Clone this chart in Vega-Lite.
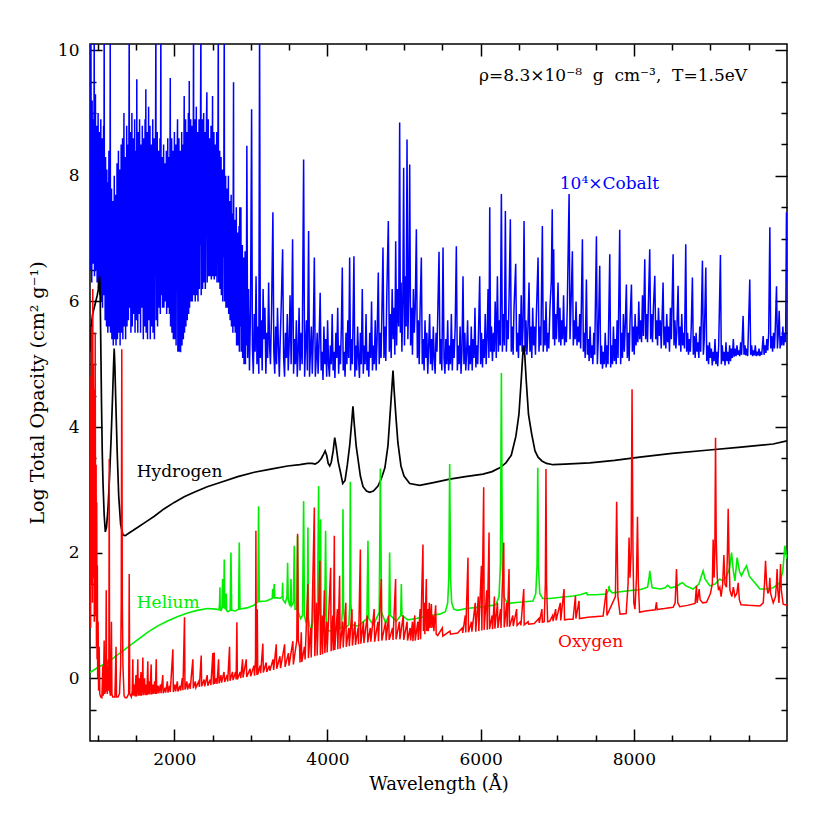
{
"$schema":"https://vega.github.io/schema/vega-lite/v6.json",
"width":697,"height":697,
"autosize":{"type":"none"},
"padding":{"left":90,"top":44,"right":43,"bottom":89},
"background":"white",
"config":{"view":{"stroke":"black","strokeWidth":1.5},
"axis":{"grid":false,"domain":false,"tickColor":"black","tickWidth":1.5,"labelFont":"DejaVu Serif","labelFontSize":17,"labelColor":"black","titleFont":"DejaVu Serif","titleFontSize":18,"titleFontWeight":"normal","titleColor":"black","labelFlush":false,"labelOverlap":false,"format":"d"}},
"datasets":{
"co":[{"w":900,"v":7.0},{"w":904,"v":8.9},{"w":908,"v":6.5},{"w":912,"v":10.5},{"w":916,"v":7.3},{"w":919,"v":8.1},{"w":923,"v":6.3},{"w":928,"v":9.2},{"w":931,"v":7.5},{"w":935,"v":8.4},{"w":940,"v":6.6},{"w":944,"v":8.9},{"w":947,"v":6.9},{"w":951,"v":7.8},{"w":955,"v":10.5},{"w":959,"v":6.4},{"w":962,"v":8.6},{"w":967,"v":7.2},{"w":971,"v":9.3},{"w":975,"v":6.5},{"w":980,"v":8.0},{"w":983,"v":7.3},{"w":988,"v":8.8},{"w":993,"v":6.3},{"w":997,"v":7.7},{"w":1001,"v":6.8},{"w":1006,"v":9.0},{"w":1010,"v":6.2},{"w":1015,"v":8.3},{"w":1018,"v":7.0},{"w":1023,"v":8.7},{"w":1028,"v":6.1},{"w":1032,"v":7.6},{"w":1036,"v":6.7},{"w":1041,"v":8.9},{"w":1046,"v":6.0},{"w":1050,"v":8.2},{"w":1054,"v":7.1},{"w":1059,"v":8.6},{"w":1063,"v":5.9},{"w":1068,"v":7.5},{"w":1072,"v":6.6},{"w":1077,"v":8.8},{"w":1081,"v":6.1},{"w":1085,"v":10.5},{"w":1089,"v":6.4},{"w":1094,"v":7.7},{"w":1098,"v":5.7},{"w":1103,"v":8.3},{"w":1107,"v":6.6},{"w":1111,"v":7.4},{"w":1116,"v":5.6},{"w":1120,"v":8.1},{"w":1124,"v":6.2},{"w":1129,"v":7.2},{"w":1133,"v":5.5},{"w":1138,"v":7.9},{"w":1142,"v":6.6},{"w":1147,"v":8.4},{"w":1151,"v":5.6},{"w":1156,"v":7.0},{"w":1160,"v":6.1},{"w":1164,"v":10.5},{"w":1168,"v":5.5},{"w":1172,"v":7.3},{"w":1177,"v":6.2},{"w":1181,"v":7.8},{"w":1186,"v":5.4},{"w":1190,"v":6.9},{"w":1195,"v":6.0},{"w":1199,"v":7.6},{"w":1204,"v":5.3},{"w":1208,"v":7.1},{"w":1213,"v":6.3},{"w":1217,"v":8.0},{"w":1222,"v":5.4},{"w":1226,"v":6.8},{"w":1230,"v":6.0},{"w":1235,"v":7.7},{"w":1240,"v":5.3},{"w":1244,"v":7.2},{"w":1249,"v":6.5},{"w":1253,"v":8.2},{"w":1258,"v":5.4},{"w":1262,"v":7.0},{"w":1266,"v":6.2},{"w":1271,"v":8.4},{"w":1276,"v":5.5},{"w":1280,"v":7.4},{"w":1284,"v":6.6},{"w":1289,"v":8.1},{"w":1293,"v":5.3},{"w":1298,"v":7.6},{"w":1302,"v":6.3},{"w":1307,"v":8.5},{"w":1311,"v":5.5},{"w":1316,"v":7.1},{"w":1320,"v":6.7},{"w":1325,"v":8.6},{"w":1329,"v":5.4},{"w":1334,"v":7.8},{"w":1338,"v":6.2},{"w":1343,"v":9.0},{"w":1347,"v":5.6},{"w":1352,"v":7.3},{"w":1356,"v":6.8},{"w":1361,"v":8.3},{"w":1365,"v":5.4},{"w":1370,"v":7.6},{"w":1374,"v":6.4},{"w":1379,"v":8.8},{"w":1383,"v":5.6},{"w":1388,"v":7.2},{"w":1392,"v":6.9},{"w":1397,"v":8.5},{"w":1401,"v":5.7},{"w":1406,"v":7.5},{"w":1412,"v":10.5},{"w":1416,"v":5.9},{"w":1420,"v":8.1},{"w":1425,"v":6.5},{"w":1429,"v":8.7},{"w":1434,"v":5.5},{"w":1438,"v":7.4},{"w":1443,"v":6.8},{"w":1447,"v":9.0},{"w":1452,"v":5.6},{"w":1456,"v":7.7},{"w":1461,"v":6.4},{"w":1465,"v":8.6},{"w":1470,"v":5.8},{"w":1474,"v":7.3},{"w":1479,"v":6.9},{"w":1483,"v":8.9},{"w":1488,"v":5.5},{"w":1492,"v":7.8},{"w":1497,"v":6.6},{"w":1501,"v":8.4},{"w":1506,"v":5.7},{"w":1511,"v":9.54},{"w":1515,"v":6.2},{"w":1520,"v":8.0},{"w":1524,"v":5.5},{"w":1529,"v":8.7},{"w":1533,"v":6.9},{"w":1538,"v":7.6},{"w":1542,"v":5.8},{"w":1547,"v":8.9},{"w":1551,"v":6.4},{"w":1556,"v":7.4},{"w":1560,"v":5.5},{"w":1565,"v":8.5},{"w":1569,"v":7.0},{"w":1574,"v":8.1},{"w":1578,"v":5.9},{"w":1583,"v":8.8},{"w":1587,"v":6.3},{"w":1592,"v":7.5},{"w":1596,"v":5.4},{"w":1601,"v":8.6},{"w":1605,"v":6.8},{"w":1610,"v":7.8},{"w":1614,"v":5.6},{"w":1619,"v":8.9},{"w":1624,"v":6.4},{"w":1629,"v":9.38},{"w":1633,"v":5.5},{"w":1638,"v":7.9},{"w":1642,"v":6.9},{"w":1647,"v":8.7},{"w":1651,"v":5.4},{"w":1656,"v":7.6},{"w":1660,"v":6.6},{"w":1665,"v":9.1},{"w":1669,"v":5.7},{"w":1674,"v":7.4},{"w":1678,"v":6.3},{"w":1683,"v":8.8},{"w":1687,"v":5.4},{"w":1692,"v":7.9},{"w":1696,"v":7.0},{"w":1701,"v":8.5},{"w":1705,"v":5.6},{"w":1710,"v":7.3},{"w":1714,"v":6.5},{"w":1719,"v":8.9},{"w":1723,"v":5.5},{"w":1728,"v":7.7},{"w":1732,"v":6.8},{"w":1737,"v":8.6},{"w":1741,"v":5.4},{"w":1746,"v":7.5},{"w":1751,"v":6.4},{"w":1756,"v":8.8},{"w":1760,"v":10.5},{"w":1764,"v":5.7},{"w":1769,"v":8.0},{"w":1773,"v":6.9},{"w":1778,"v":8.7},{"w":1782,"v":5.6},{"w":1787,"v":7.4},{"w":1791,"v":6.6},{"w":1796,"v":8.4},{"w":1800,"v":5.9},{"w":1805,"v":7.2},{"w":1809,"v":6.8},{"w":1814,"v":8.6},{"w":1818,"v":5.8},{"w":1825,"v":10.5},{"w":1829,"v":6.1},{"w":1834,"v":7.7},{"w":1838,"v":6.7},{"w":1843,"v":8.3},{"w":1847,"v":5.9},{"w":1852,"v":7.4},{"w":1856,"v":7.0},{"w":1861,"v":8.5},{"w":1865,"v":5.9},{"w":1870,"v":7.3},{"w":1874,"v":6.6},{"w":1879,"v":8.2},{"w":1883,"v":6.0},{"w":1888,"v":7.6},{"w":1892,"v":7.1},{"w":1897,"v":8.4},{"w":1901,"v":5.8},{"w":1906,"v":7.2},{"w":1910,"v":6.5},{"w":1915,"v":8.6},{"w":1919,"v":5.9},{"w":1924,"v":7.5},{"w":1928,"v":6.8},{"w":1933,"v":8.3},{"w":1937,"v":5.8},{"w":1941,"v":7.1},{"w":1948,"v":9.56},{"w":1952,"v":5.6},{"w":1957,"v":7.8},{"w":1961,"v":6.5},{"w":1966,"v":8.6},{"w":1970,"v":5.5},{"w":1975,"v":7.3},{"w":1979,"v":6.7},{"w":1984,"v":8.4},{"w":1988,"v":5.4},{"w":1993,"v":7.6},{"w":1997,"v":6.3},{"w":2002,"v":8.7},{"w":2006,"v":5.4},{"w":2011,"v":7.2},{"w":2015,"v":6.6},{"w":2020,"v":8.5},{"w":2024,"v":5.3},{"w":2029,"v":7.7},{"w":2033,"v":6.2},{"w":2038,"v":8.3},{"w":2043,"v":8.9},{"w":2047,"v":5.2},{"w":2052,"v":7.4},{"w":2056,"v":6.5},{"w":2061,"v":8.6},{"w":2065,"v":5.2},{"w":2070,"v":7.1},{"w":2074,"v":6.3},{"w":2079,"v":8.4},{"w":2083,"v":5.19},{"w":2088,"v":7.5},{"w":2092,"v":6.1},{"w":2097,"v":8.7},{"w":2101,"v":5.3},{"w":2106,"v":7.3},{"w":2110,"v":6.6},{"w":2115,"v":8.5},{"w":2119,"v":5.4},{"w":2124,"v":7.8},{"w":2130,"v":9.27},{"w":2134,"v":5.5},{"w":2139,"v":7.6},{"w":2143,"v":6.8},{"w":2148,"v":8.9},{"w":2152,"v":5.6},{"w":2157,"v":7.4},{"w":2161,"v":6.9},{"w":2166,"v":8.7},{"w":2170,"v":5.7},{"w":2175,"v":7.9},{"w":2179,"v":6.6},{"w":2184,"v":9.0},{"w":2188,"v":5.8},{"w":2192,"v":7.5},{"w":2196,"v":9.51},{"w":2200,"v":5.9},{"w":2205,"v":7.8},{"w":2209,"v":7.0},{"w":2214,"v":8.9},{"w":2218,"v":6.0},{"w":2223,"v":7.6},{"w":2227,"v":6.7},{"w":2232,"v":8.8},{"w":2236,"v":6.0},{"w":2241,"v":7.4},{"w":2246,"v":7.2},{"w":2252,"v":10.5},{"w":2256,"v":6.1},{"w":2261,"v":8.0},{"w":2265,"v":6.8},{"w":2270,"v":8.9},{"w":2274,"v":6.0},{"w":2279,"v":7.5},{"w":2283,"v":7.2},{"w":2288,"v":9.1},{"w":2292,"v":6.1},{"w":2297,"v":7.7},{"w":2301,"v":6.7},{"w":2306,"v":8.7},{"w":2310,"v":6.0},{"w":2315,"v":7.4},{"w":2319,"v":7.3},{"w":2324,"v":8.9},{"w":2328,"v":6.2},{"w":2333,"v":7.8},{"w":2337,"v":6.9},{"w":2342,"v":8.6},{"w":2348,"v":10.5},{"w":2352,"v":6.1},{"w":2357,"v":7.9},{"w":2361,"v":7.0},{"w":2366,"v":8.9},{"w":2370,"v":6.2},{"w":2375,"v":7.6},{"w":2379,"v":7.3},{"w":2384,"v":9.0},{"w":2388,"v":6.3},{"w":2393,"v":7.8},{"w":2397,"v":6.9},{"w":2402,"v":8.7},{"w":2406,"v":6.2},{"w":2411,"v":7.5},{"w":2415,"v":7.2},{"w":2420,"v":8.8},{"w":2426,"v":9.33},{"w":2430,"v":6.3},{"w":2435,"v":7.7},{"w":2439,"v":7.4},{"w":2444,"v":8.9},{"w":2448,"v":6.4},{"w":2453,"v":7.9},{"w":2457,"v":7.0},{"w":2462,"v":8.6},{"w":2466,"v":6.4},{"w":2471,"v":7.6},{"w":2475,"v":7.3},{"w":2480,"v":8.8},{"w":2484,"v":6.35},{"w":2489,"v":7.8},{"w":2494,"v":7.1},{"w":2500,"v":9.27},{"w":2504,"v":6.4},{"w":2509,"v":7.7},{"w":2513,"v":7.4},{"w":2518,"v":8.7},{"w":2522,"v":6.35},{"w":2527,"v":7.9},{"w":2531,"v":7.0},{"w":2536,"v":8.5},{"w":2540,"v":6.4},{"w":2545,"v":7.6},{"w":2549,"v":7.2},{"w":2554,"v":8.7},{"w":2558,"v":6.3},{"w":2563,"v":7.8},{"w":2567,"v":6.9},{"w":2575,"v":10.5},{"w":2579,"v":6.3},{"w":2584,"v":7.5},{"w":2588,"v":7.1},{"w":2593,"v":8.4},{"w":2597,"v":6.2},{"w":2602,"v":7.7},{"w":2606,"v":6.8},{"w":2611,"v":8.3},{"w":2615,"v":6.1},{"w":2620,"v":7.4},{"w":2624,"v":7.0},{"w":2629,"v":8.1},{"w":2633,"v":6.0},{"w":2638,"v":7.6},{"w":2642,"v":6.7},{"w":2647,"v":7.9},{"w":2653,"v":10.5},{"w":2657,"v":6.0},{"w":2662,"v":7.5},{"w":2666,"v":6.9},{"w":2671,"v":8.0},{"w":2675,"v":5.9},{"w":2680,"v":7.3},{"w":2684,"v":6.6},{"w":2689,"v":7.8},{"w":2693,"v":5.9},{"w":2698,"v":7.2},{"w":2702,"v":6.5},{"w":2707,"v":8.0},{"w":2711,"v":5.8},{"w":2716,"v":7.1},{"w":2720,"v":6.4},{"w":2725,"v":7.6},{"w":2729,"v":5.7},{"w":2734,"v":7.0},{"w":2738,"v":6.3},{"w":2743,"v":7.7},{"w":2747,"v":5.6},{"w":2752,"v":6.9},{"w":2756,"v":6.2},{"w":2761,"v":7.4},{"w":2765,"v":5.5},{"w":2774,"v":9.49},{"w":2778,"v":5.6},{"w":2783,"v":6.8},{"w":2787,"v":6.1},{"w":2792,"v":7.3},{"w":2796,"v":5.5},{"w":2801,"v":6.7},{"w":2805,"v":5.9},{"w":2810,"v":7.5},{"w":2814,"v":5.3},{"w":2819,"v":6.6},{"w":2823,"v":5.9},{"w":2828,"v":7.1},{"w":2832,"v":5.3},{"w":2837,"v":6.5},{"w":2841,"v":5.7},{"w":2846,"v":7.2},{"w":2850,"v":5.2},{"w":2856,"v":7.5},{"w":2861,"v":5.6},{"w":2866,"v":6.6},{"w":2870,"v":7.5},{"w":2875,"v":5.2},{"w":2880,"v":6.4},{"w":2884,"v":5.6},{"w":2889,"v":6.9},{"w":2893,"v":5.1},{"w":2898,"v":6.3},{"w":2902,"v":5.5},{"w":2907,"v":6.7},{"w":2911,"v":5.0},{"w":2916,"v":6.2},{"w":2920,"v":5.4},{"w":2925,"v":6.8},{"w":2929,"v":5.0},{"w":2934,"v":6.1},{"w":2938,"v":5.3},{"w":2943,"v":6.5},{"w":2948,"v":8.48},{"w":2958,"v":5.1},{"w":2970,"v":6.2},{"w":2982,"v":4.9},{"w":2996,"v":5.9},{"w":3010,"v":9.06},{"w":3020,"v":5.3},{"w":3032,"v":4.85},{"w":3044,"v":5.8},{"w":3056,"v":5.2},{"w":3068,"v":6.4},{"w":3080,"v":5.0},{"w":3092,"v":5.6},{"w":3104,"v":4.85},{"w":3114,"v":10.5},{"w":3124,"v":5.1},{"w":3136,"v":5.7},{"w":3148,"v":4.9},{"w":3160,"v":6.2},{"w":3172,"v":5.4},{"w":3184,"v":5.9},{"w":3196,"v":4.85},{"w":3208,"v":5.5},{"w":3220,"v":5.1},{"w":3232,"v":6.3},{"w":3244,"v":5.3},{"w":3256,"v":5.0},{"w":3270,"v":5.8},{"w":3288,"v":7.42},{"w":3300,"v":5.2},{"w":3312,"v":4.85},{"w":3324,"v":5.6},{"w":3336,"v":5.0},{"w":3348,"v":5.9},{"w":3360,"v":5.3},{"w":3372,"v":4.8},{"w":3384,"v":5.4},{"w":3398,"v":6.0},{"w":3415,"v":6.83},{"w":3428,"v":5.1},{"w":3440,"v":4.8},{"w":3452,"v":5.5},{"w":3464,"v":5.1},{"w":3476,"v":5.8},{"w":3488,"v":4.9},{"w":3500,"v":5.3},{"w":3512,"v":6.1},{"w":3526,"v":5.0},{"w":3545,"v":6.99},{"w":3558,"v":4.85},{"w":3570,"v":5.4},{"w":3582,"v":5.0},{"w":3594,"v":5.7},{"w":3606,"v":4.8},{"w":3618,"v":5.2},{"w":3630,"v":5.9},{"w":3642,"v":4.9},{"w":3656,"v":5.5},{"w":3670,"v":5.0},{"w":3689,"v":8.26},{"w":3702,"v":4.8},{"w":3714,"v":5.3},{"w":3726,"v":5.7},{"w":3738,"v":4.9},{"w":3754,"v":7.12},{"w":3766,"v":4.8},{"w":3778,"v":5.2},{"w":3790,"v":5.6},{"w":3802,"v":4.85},{"w":3814,"v":5.4},{"w":3829,"v":6.7},{"w":3842,"v":4.8},{"w":3854,"v":5.1},{"w":3866,"v":5.5},{"w":3878,"v":4.85},{"w":3890,"v":5.3},{"w":3905,"v":6.14},{"w":3918,"v":4.9},{"w":3930,"v":5.2},{"w":3942,"v":4.75},{"w":3954,"v":5.6},{"w":3966,"v":5.0},{"w":3978,"v":5.4},{"w":3990,"v":4.8},{"w":4002,"v":5.7},{"w":4014,"v":5.0},{"w":4026,"v":4.8},{"w":4038,"v":5.3},{"w":4050,"v":5.0},{"w":4062,"v":5.8},{"w":4074,"v":4.9},{"w":4086,"v":5.2},{"w":4098,"v":4.78},{"w":4110,"v":5.5},{"w":4122,"v":5.1},{"w":4134,"v":5.9},{"w":4146,"v":4.85},{"w":4158,"v":5.3},{"w":4170,"v":5.0},{"w":4182,"v":5.6},{"w":4194,"v":6.54},{"w":4206,"v":4.9},{"w":4218,"v":5.2},{"w":4230,"v":4.8},{"w":4242,"v":5.5},{"w":4254,"v":5.0},{"w":4266,"v":5.7},{"w":4278,"v":5.1},{"w":4290,"v":6.7},{"w":4302,"v":4.9},{"w":4314,"v":5.4},{"w":4326,"v":5.0},{"w":4346,"v":6.72},{"w":4358,"v":4.8},{"w":4370,"v":5.3},{"w":4382,"v":4.9},{"w":4394,"v":5.6},{"w":4406,"v":5.1},{"w":4418,"v":4.78},{"w":4430,"v":5.5},{"w":4442,"v":5.0},{"w":4455,"v":6.2},{"w":4468,"v":4.85},{"w":4480,"v":5.3},{"w":4492,"v":5.0},{"w":4504,"v":5.8},{"w":4516,"v":4.9},{"w":4528,"v":5.2},{"w":4540,"v":4.8},{"w":4552,"v":5.5},{"w":4564,"v":5.1},{"w":4576,"v":6.0},{"w":4588,"v":4.9},{"w":4600,"v":5.3},{"w":4612,"v":5.0},{"w":4624,"v":5.7},{"w":4636,"v":4.9},{"w":4648,"v":5.4},{"w":4664,"v":6.46},{"w":4676,"v":5.0},{"w":4688,"v":5.5},{"w":4700,"v":5.1},{"w":4712,"v":5.9},{"w":4725,"v":6.86},{"w":4738,"v":5.1},{"w":4750,"v":5.6},{"w":4762,"v":5.05},{"w":4775,"v":6.1},{"w":4795,"v":7.28},{"w":4808,"v":5.2},{"w":4820,"v":5.8},{"w":4832,"v":5.1},{"w":4845,"v":6.2},{"w":4858,"v":5.4},{"w":4870,"v":5.9},{"w":4880,"v":5.15},{"w":4891,"v":6.96},{"w":4903,"v":5.3},{"w":4915,"v":6.2},{"w":4930,"v":5.6},{"w":4943,"v":8.85},{"w":4952,"v":5.5},{"w":4962,"v":6.3},{"w":4972,"v":5.2},{"w":4984,"v":6.0},{"w":4995,"v":8.13},{"w":5006,"v":5.3},{"w":5016,"v":6.4},{"w":5028,"v":5.6},{"w":5039,"v":8.58},{"w":5050,"v":5.4},{"w":5062,"v":6.1},{"w":5074,"v":8.18},{"w":5086,"v":5.3},{"w":5098,"v":5.9},{"w":5110,"v":5.15},{"w":5122,"v":6.2},{"w":5134,"v":5.5},{"w":5146,"v":5.9},{"w":5161,"v":7.15},{"w":5174,"v":5.1},{"w":5186,"v":5.7},{"w":5198,"v":5.0},{"w":5210,"v":5.9},{"w":5226,"v":6.7},{"w":5238,"v":5.0},{"w":5250,"v":5.4},{"w":5262,"v":4.9},{"w":5274,"v":5.7},{"w":5286,"v":5.1},{"w":5298,"v":5.5},{"w":5310,"v":4.85},{"w":5322,"v":5.3},{"w":5334,"v":5.8},{"w":5346,"v":5.0},{"w":5358,"v":5.4},{"w":5370,"v":4.9},{"w":5382,"v":5.6},{"w":5394,"v":5.1},{"w":5406,"v":4.85},{"w":5418,"v":5.5},{"w":5430,"v":5.2},{"w":5442,"v":5.9},{"w":5457,"v":6.79},{"w":5470,"v":5.0},{"w":5482,"v":5.4},{"w":5494,"v":4.9},{"w":5509,"v":6.86},{"w":5522,"v":5.1},{"w":5534,"v":4.85},{"w":5546,"v":5.4},{"w":5558,"v":5.0},{"w":5570,"v":5.7},{"w":5582,"v":4.9},{"w":5594,"v":5.3},{"w":5606,"v":5.0},{"w":5618,"v":5.8},{"w":5630,"v":4.9},{"w":5642,"v":5.4},{"w":5654,"v":5.1},{"w":5668,"v":5.6},{"w":5683,"v":6.88},{"w":5696,"v":4.9},{"w":5708,"v":5.3},{"w":5720,"v":5.0},{"w":5732,"v":5.6},{"w":5744,"v":4.85},{"w":5756,"v":5.2},{"w":5770,"v":6.4},{"w":5782,"v":5.0},{"w":5794,"v":5.5},{"w":5806,"v":4.9},{"w":5818,"v":5.2},{"w":5830,"v":5.7},{"w":5842,"v":4.9},{"w":5854,"v":5.3},{"w":5866,"v":5.0},{"w":5878,"v":5.6},{"w":5890,"v":4.9},{"w":5902,"v":5.4},{"w":5914,"v":5.1},{"w":5926,"v":5.9},{"w":5938,"v":4.95},{"w":5950,"v":5.3},{"w":5962,"v":5.0},{"w":5974,"v":5.6},{"w":5988,"v":6.4},{"w":6000,"v":5.0},{"w":6012,"v":5.5},{"w":6024,"v":4.95},{"w":6036,"v":5.4},{"w":6048,"v":5.1},{"w":6060,"v":5.8},{"w":6072,"v":5.0},{"w":6084,"v":5.4},{"w":6097,"v":6.2},{"w":6108,"v":5.1},{"w":6119,"v":7.5},{"w":6130,"v":5.2},{"w":6142,"v":5.6},{"w":6154,"v":5.05},{"w":6166,"v":5.5},{"w":6178,"v":5.2},{"w":6190,"v":6.0},{"w":6204,"v":5.1},{"w":6219,"v":6.4},{"w":6232,"v":5.2},{"w":6244,"v":5.7},{"w":6256,"v":5.3},{"w":6271,"v":7.71},{"w":6284,"v":5.2},{"w":6296,"v":5.8},{"w":6310,"v":5.3},{"w":6323,"v":7.44},{"w":6336,"v":5.2},{"w":6348,"v":5.7},{"w":6360,"v":5.4},{"w":6372,"v":6.1},{"w":6388,"v":7.31},{"w":6400,"v":5.2},{"w":6412,"v":5.6},{"w":6424,"v":5.15},{"w":6436,"v":5.9},{"w":6458,"v":6.6},{"w":6470,"v":5.2},{"w":6482,"v":5.5},{"w":6494,"v":5.1},{"w":6506,"v":5.8},{"w":6518,"v":5.3},{"w":6530,"v":6.1},{"w":6542,"v":5.2},{"w":6554,"v":5.6},{"w":6567,"v":7.28},{"w":6580,"v":5.2},{"w":6592,"v":5.7},{"w":6604,"v":5.15},{"w":6616,"v":5.5},{"w":6632,"v":6.3},{"w":6644,"v":5.2},{"w":6656,"v":5.6},{"w":6668,"v":5.1},{"w":6680,"v":5.9},{"w":6692,"v":5.3},{"w":6704,"v":5.6},{"w":6716,"v":5.15},{"w":6728,"v":5.8},{"w":6750,"v":6.7},{"w":6762,"v":5.2},{"w":6774,"v":5.6},{"w":6786,"v":5.3},{"w":6806,"v":7.2},{"w":6818,"v":5.2},{"w":6830,"v":5.7},{"w":6842,"v":5.3},{"w":6854,"v":6.0},{"w":6866,"v":5.2},{"w":6878,"v":5.5},{"w":6890,"v":5.25},{"w":6905,"v":5.9},{"w":6922,"v":6.3},{"w":6935,"v":7.47},{"w":6946,"v":5.4},{"w":6954,"v":6.83},{"w":6966,"v":5.3},{"w":6978,"v":5.8},{"w":6990,"v":5.4},{"w":7011,"v":6.3},{"w":7023,"v":5.35},{"w":7035,"v":5.9},{"w":7047,"v":5.3},{"w":7059,"v":5.7},{"w":7071,"v":5.4},{"w":7083,"v":6.1},{"w":7095,"v":5.3},{"w":7107,"v":5.6},{"w":7119,"v":5.35},{"w":7131,"v":5.9},{"w":7155,"v":7.71},{"w":7167,"v":5.4},{"w":7179,"v":5.9},{"w":7198,"v":6.8},{"w":7210,"v":5.3},{"w":7222,"v":5.7},{"w":7234,"v":5.4},{"w":7246,"v":6.0},{"w":7258,"v":5.3},{"w":7270,"v":5.6},{"w":7282,"v":5.35},{"w":7294,"v":5.8},{"w":7306,"v":5.25},{"w":7329,"v":6.99},{"w":7341,"v":5.2},{"w":7353,"v":5.5},{"w":7365,"v":5.1},{"w":7381,"v":6.35},{"w":7393,"v":5.15},{"w":7405,"v":5.4},{"w":7417,"v":5.05},{"w":7429,"v":5.6},{"w":7441,"v":5.1},{"w":7453,"v":5.3},{"w":7465,"v":5.0},{"w":7477,"v":5.5},{"w":7489,"v":5.15},{"w":7512,"v":7.04},{"w":7524,"v":5.0},{"w":7536,"v":5.4},{"w":7555,"v":6.57},{"w":7567,"v":5.0},{"w":7579,"v":5.3},{"w":7591,"v":4.93},{"w":7603,"v":5.2},{"w":7615,"v":5.0},{"w":7627,"v":5.5},{"w":7639,"v":4.95},{"w":7651,"v":5.3},{"w":7663,"v":5.0},{"w":7686,"v":6.75},{"w":7698,"v":4.95},{"w":7710,"v":5.3},{"w":7722,"v":5.0},{"w":7734,"v":5.6},{"w":7746,"v":5.05},{"w":7758,"v":5.4},{"w":7770,"v":5.0},{"w":7782,"v":5.7},{"w":7794,"v":5.1},{"w":7816,"v":7.14},{"w":7828,"v":5.0},{"w":7840,"v":5.5},{"w":7852,"v":5.1},{"w":7864,"v":5.8},{"w":7876,"v":5.2},{"w":7888,"v":5.6},{"w":7903,"v":6.27},{"w":7915,"v":5.1},{"w":7927,"v":5.5},{"w":7939,"v":5.05},{"w":7951,"v":5.7},{"w":7969,"v":6.27},{"w":7981,"v":5.2},{"w":7993,"v":5.6},{"w":8005,"v":5.15},{"w":8017,"v":5.8},{"w":8029,"v":5.3},{"w":8041,"v":5.6},{"w":8053,"v":5.35},{"w":8065,"v":6.0},{"w":8077,"v":5.4},{"w":8089,"v":5.7},{"w":8101,"v":5.35},{"w":8113,"v":6.1},{"w":8125,"v":5.45},{"w":8143,"v":6.67},{"w":8155,"v":5.4},{"w":8167,"v":5.8},{"w":8179,"v":5.35},{"w":8191,"v":6.0},{"w":8208,"v":6.83},{"w":8220,"v":5.4},{"w":8232,"v":5.8},{"w":8244,"v":5.35},{"w":8256,"v":5.9},{"w":8274,"v":6.41},{"w":8286,"v":5.4},{"w":8298,"v":5.7},{"w":8310,"v":5.3},{"w":8322,"v":5.9},{"w":8334,"v":5.45},{"w":8346,"v":5.7},{"w":8358,"v":5.25},{"w":8382,"v":6.3},{"w":8394,"v":5.3},{"w":8406,"v":5.6},{"w":8418,"v":5.25},{"w":8430,"v":5.8},{"w":8442,"v":5.35},{"w":8454,"v":5.6},{"w":8466,"v":5.2},{"w":8478,"v":5.9},{"w":8490,"v":5.4},{"w":8513,"v":6.75},{"w":8525,"v":5.3},{"w":8537,"v":5.7},{"w":8549,"v":5.25},{"w":8561,"v":5.5},{"w":8578,"v":6.25},{"w":8590,"v":5.3},{"w":8602,"v":5.6},{"w":8614,"v":5.2},{"w":8626,"v":5.8},{"w":8638,"v":5.3},{"w":8650,"v":5.5},{"w":8662,"v":5.25},{"w":8678,"v":6.91},{"w":8690,"v":5.2},{"w":8702,"v":5.5},{"w":8714,"v":5.15},{"w":8726,"v":5.4},{"w":8738,"v":5.2},{"w":8750,"v":5.6},{"w":8765,"v":6.38},{"w":8777,"v":5.15},{"w":8789,"v":5.45},{"w":8801,"v":5.1},{"w":8813,"v":5.5},{"w":8825,"v":5.2},{"w":8837,"v":5.35},{"w":8849,"v":5.1},{"w":8861,"v":5.6},{"w":8873,"v":5.2},{"w":8896,"v":6.65},{"w":8908,"v":5.15},{"w":8920,"v":5.4},{"w":8940,"v":6.54},{"w":8952,"v":5.05},{"w":8964,"v":5.3},{"w":8976,"v":5.0},{"w":8988,"v":5.35},{"w":9000,"v":5.1},{"w":9012,"v":5.25},{"w":9024,"v":4.98},{"w":9036,"v":5.2},{"w":9048,"v":5.05},{"w":9060,"v":5.4},{"w":9072,"v":5.0},{"w":9084,"v":5.2},{"w":9096,"v":4.97},{"w":9108,"v":5.3},{"w":9131,"v":6.74},{"w":9143,"v":5.0},{"w":9155,"v":5.3},{"w":9167,"v":5.05},{"w":9179,"v":5.2},{"w":9191,"v":4.98},{"w":9203,"v":5.35},{"w":9215,"v":5.05},{"w":9227,"v":5.2},{"w":9239,"v":5.0},{"w":9251,"v":5.3},{"w":9263,"v":5.05},{"w":9275,"v":5.25},{"w":9287,"v":5.1},{"w":9299,"v":5.4},{"w":9311,"v":5.12},{"w":9323,"v":5.25},{"w":9335,"v":5.13},{"w":9347,"v":5.3},{"w":9359,"v":5.15},{"w":9371,"v":5.22},{"w":9383,"v":5.13},{"w":9395,"v":5.35},{"w":9407,"v":5.15},{"w":9427,"v":5.77},{"w":9439,"v":5.15},{"w":9451,"v":5.3},{"w":9463,"v":5.14},{"w":9475,"v":5.25},{"w":9487,"v":5.13},{"w":9514,"v":6.35},{"w":9526,"v":5.15},{"w":9538,"v":5.3},{"w":9550,"v":5.13},{"w":9562,"v":5.22},{"w":9574,"v":5.14},{"w":9586,"v":5.3},{"w":9598,"v":5.13},{"w":9610,"v":5.2},{"w":9622,"v":5.14},{"w":9634,"v":5.25},{"w":9646,"v":5.13},{"w":9658,"v":5.2},{"w":9670,"v":5.15},{"w":9689,"v":5.45},{"w":9701,"v":5.15},{"w":9713,"v":5.3},{"w":9725,"v":5.18},{"w":9737,"v":5.4},{"w":9749,"v":5.22},{"w":9761,"v":5.5},{"w":9776,"v":7.18},{"w":9788,"v":5.25},{"w":9800,"v":5.45},{"w":9812,"v":5.2},{"w":9824,"v":5.5},{"w":9836,"v":5.25},{"w":9848,"v":5.6},{"w":9863,"v":6.24},{"w":9875,"v":5.25},{"w":9887,"v":5.5},{"w":9898,"v":5.85},{"w":9910,"v":5.25},{"w":9922,"v":5.45},{"w":9934,"v":5.3},{"w":9946,"v":5.6},{"w":9958,"v":5.3},{"w":9970,"v":5.5},{"w":9982,"v":5.35},{"w":9993,"v":7.42},{"w":10000,"v":6.3}],
"h":[{"w":900,"v":5.2},{"w":915,"v":5.6},{"w":935,"v":5.8},{"w":955,"v":5.9},{"w":975,"v":6.0},{"w":995,"v":6.1},{"w":1010,"v":6.2},{"w":1020,"v":6.35},{"w":1026,"v":6.4},{"w":1032,"v":6.2},{"w":1040,"v":5.4},{"w":1050,"v":4.4},{"w":1060,"v":3.6},{"w":1070,"v":3.1},{"w":1085,"v":2.6},{"w":1100,"v":2.33},{"w":1115,"v":2.4},{"w":1135,"v":2.7},{"w":1155,"v":3.2},{"w":1175,"v":3.8},{"w":1195,"v":4.5},{"w":1208,"v":5.0},{"w":1216,"v":5.25},{"w":1224,"v":5.0},{"w":1237,"v":4.4},{"w":1255,"v":3.6},{"w":1275,"v":2.9},{"w":1300,"v":2.45},{"w":1330,"v":2.28},{"w":1360,"v":2.27},{"w":1420,"v":2.32},{"w":1520,"v":2.4},{"w":1630,"v":2.49},{"w":1740,"v":2.58},{"w":1870,"v":2.7},{"w":2000,"v":2.8},{"w":2130,"v":2.89},{"w":2260,"v":2.96},{"w":2430,"v":3.05},{"w":2610,"v":3.12},{"w":2830,"v":3.21},{"w":3045,"v":3.28},{"w":3260,"v":3.33},{"w":3480,"v":3.38},{"w":3640,"v":3.4},{"w":3741,"v":3.42},{"w":3800,"v":3.42},{"w":3840,"v":3.41},{"w":3880,"v":3.44},{"w":3920,"v":3.5},{"w":3950,"v":3.57},{"w":3970,"v":3.62},{"w":3990,"v":3.55},{"w":4010,"v":3.42},{"w":4030,"v":3.38},{"w":4050,"v":3.44},{"w":4075,"v":3.62},{"w":4095,"v":3.83},{"w":4115,"v":3.68},{"w":4140,"v":3.45},{"w":4170,"v":3.28},{"w":4200,"v":3.1},{"w":4230,"v":3.15},{"w":4260,"v":3.4},{"w":4290,"v":3.7},{"w":4315,"v":4.05},{"w":4333,"v":4.33},{"w":4350,"v":4.05},{"w":4375,"v":3.7},{"w":4400,"v":3.48},{"w":4430,"v":3.22},{"w":4465,"v":3.05},{"w":4510,"v":2.98},{"w":4551,"v":2.96},{"w":4600,"v":2.98},{"w":4660,"v":3.06},{"w":4710,"v":3.2},{"w":4750,"v":3.35},{"w":4790,"v":3.7},{"w":4815,"v":4.15},{"w":4840,"v":4.6},{"w":4856,"v":4.9},{"w":4870,"v":4.6},{"w":4895,"v":4.15},{"w":4920,"v":3.75},{"w":4960,"v":3.38},{"w":5000,"v":3.22},{"w":5074,"v":3.1},{"w":5204,"v":3.07},{"w":5400,"v":3.12},{"w":5596,"v":3.17},{"w":5800,"v":3.21},{"w":6031,"v":3.25},{"w":6150,"v":3.29},{"w":6249,"v":3.35},{"w":6330,"v":3.43},{"w":6400,"v":3.55},{"w":6460,"v":3.85},{"w":6500,"v":4.2},{"w":6530,"v":4.75},{"w":6550,"v":5.15},{"w":6563,"v":5.3},{"w":6576,"v":5.15},{"w":6595,"v":4.75},{"w":6625,"v":4.2},{"w":6665,"v":3.9},{"w":6710,"v":3.62},{"w":6750,"v":3.52},{"w":6800,"v":3.46},{"w":6860,"v":3.42},{"w":6946,"v":3.4},{"w":7100,"v":3.41},{"w":7425,"v":3.43},{"w":7750,"v":3.47},{"w":8078,"v":3.52},{"w":8500,"v":3.58},{"w":8949,"v":3.63},{"w":9400,"v":3.68},{"w":9819,"v":3.73},{"w":10000,"v":3.78}],
"he":[{"w":900,"v":0.09},{"w":1000,"v":0.17},{"w":1129,"v":0.25},{"w":1260,"v":0.37},{"w":1390,"v":0.49},{"w":1520,"v":0.61},{"w":1651,"v":0.73},{"w":1780,"v":0.83},{"w":1912,"v":0.91},{"w":2040,"v":0.98},{"w":2174,"v":1.04},{"w":2300,"v":1.08},{"w":2435,"v":1.11},{"w":2543,"v":1.1},{"w":2585,"v":1.09},{"w":2592,"v":1.2},{"w":2596,"v":1.45},{"w":2600,"v":1.15},{"w":2610,"v":1.07},{"w":2625,"v":1.12},{"w":2631,"v":1.58},{"w":2637,"v":1.12},{"w":2647,"v":1.15},{"w":2653,"v":1.89},{"w":2659,"v":1.12},{"w":2672,"v":1.1},{"w":2678,"v":1.35},{"w":2684,"v":1.08},{"w":2700,"v":1.06},{"w":2730,"v":1.08},{"w":2740,"v":2.0},{"w":2750,"v":1.08},{"w":2800,"v":1.07},{"w":2840,"v":1.1},{"w":2849,"v":2.16},{"w":2858,"v":1.1},{"w":2950,"v":1.12},{"w":3040,"v":1.16},{"w":3092,"v":1.22},{"w":3101,"v":2.74},{"w":3110,"v":1.22},{"w":3200,"v":1.23},{"w":3280,"v":1.27},{"w":3285,"v":1.42},{"w":3290,"v":1.27},{"w":3306,"v":1.5},{"w":3312,"v":1.28},{"w":3349,"v":1.28},{"w":3380,"v":1.27},{"w":3410,"v":1.3},{"w":3415,"v":1.52},{"w":3420,"v":1.25},{"w":3450,"v":1.2},{"w":3472,"v":1.3},{"w":3480,"v":1.84},{"w":3488,"v":1.25},{"w":3510,"v":1.15},{"w":3520,"v":1.3},{"w":3524,"v":1.58},{"w":3530,"v":1.15},{"w":3555,"v":1.2},{"w":3567,"v":2.11},{"w":3577,"v":1.1},{"w":3600,"v":1.1},{"w":3610,"v":2.27},{"w":3620,"v":1.05},{"w":3650,"v":0.95},{"w":3675,"v":1.0},{"w":3689,"v":2.82},{"w":3700,"v":1.0},{"w":3720,"v":0.88},{"w":3738,"v":1.0},{"w":3745,"v":2.4},{"w":3752,"v":0.95},{"w":3770,"v":0.82},{"w":3790,"v":0.76},{"w":3810,"v":0.9},{"w":3820,"v":1.3},{"w":3826,"v":1.7},{"w":3832,"v":1.3},{"w":3850,"v":0.82},{"w":3870,"v":1.1},{"w":3885,"v":3.06},{"w":3895,"v":1.1},{"w":3905,"v":1.0},{"w":3911,"v":2.53},{"w":3918,"v":0.95},{"w":3940,"v":0.8},{"w":3965,"v":1.0},{"w":3976,"v":2.35},{"w":3986,"v":0.9},{"w":4002,"v":0.78},{"w":4020,"v":0.75},{"w":4060,"v":0.76},{"w":4100,"v":0.77},{"w":4180,"v":0.8},{"w":4196,"v":1.1},{"w":4203,"v":2.69},{"w":4210,"v":1.1},{"w":4230,"v":0.8},{"w":4280,"v":0.85},{"w":4292,"v":1.2},{"w":4299,"v":3.13},{"w":4306,"v":1.2},{"w":4320,"v":0.85},{"w":4400,"v":0.83},{"w":4515,"v":0.95},{"w":4529,"v":2.19},{"w":4540,"v":0.95},{"w":4600,"v":0.85},{"w":4676,"v":1.05},{"w":4691,"v":3.34},{"w":4706,"v":1.05},{"w":4760,"v":0.88},{"w":4803,"v":1.0},{"w":4812,"v":2.0},{"w":4821,"v":1.0},{"w":4900,"v":0.91},{"w":4957,"v":1.0},{"w":4965,"v":1.5},{"w":4973,"v":1.0},{"w":5050,"v":0.93},{"w":5161,"v":0.95},{"w":5300,"v":0.99},{"w":5465,"v":1.02},{"w":5540,"v":1.06},{"w":5570,"v":1.2},{"w":5585,"v":1.6},{"w":5596,"v":3.41},{"w":5607,"v":1.6},{"w":5622,"v":1.2},{"w":5650,"v":1.1},{"w":5700,"v":1.08},{"w":5814,"v":1.11},{"w":6050,"v":1.14},{"w":6200,"v":1.17},{"w":6240,"v":1.3},{"w":6258,"v":1.8},{"w":6271,"v":4.86},{"w":6284,"v":1.8},{"w":6302,"v":1.3},{"w":6350,"v":1.19},{"w":6500,"v":1.21},{"w":6684,"v":1.23},{"w":6720,"v":1.35},{"w":6737,"v":1.8},{"w":6746,"v":3.35},{"w":6755,"v":1.8},{"w":6772,"v":1.35},{"w":6810,"v":1.27},{"w":6903,"v":1.27},{"w":7050,"v":1.29},{"w":7207,"v":1.31},{"w":7300,"v":1.33},{"w":7382,"v":1.36},{"w":7395,"v":1.33},{"w":7500,"v":1.33},{"w":7643,"v":1.34},{"w":7670,"v":1.4},{"w":7678,"v":1.47},{"w":7686,"v":1.4},{"w":7720,"v":1.36},{"w":7900,"v":1.39},{"w":8078,"v":1.41},{"w":8180,"v":1.45},{"w":8200,"v":1.6},{"w":8209,"v":1.71},{"w":8218,"v":1.6},{"w":8240,"v":1.44},{"w":8350,"v":1.42},{"w":8410,"v":1.44},{"w":8440,"v":1.48},{"w":8480,"v":1.44},{"w":8560,"v":1.46},{"w":8600,"v":1.5},{"w":8636,"v":1.52},{"w":8680,"v":1.47},{"w":8774,"v":1.42},{"w":8850,"v":1.5},{"w":8880,"v":1.62},{"w":8905,"v":1.71},{"w":8930,"v":1.58},{"w":8992,"v":1.47},{"w":9060,"v":1.5},{"w":9123,"v":1.58},{"w":9160,"v":1.55},{"w":9210,"v":1.62},{"w":9250,"v":1.75},{"w":9276,"v":2.0},{"w":9300,"v":1.7},{"w":9320,"v":1.55},{"w":9349,"v":1.92},{"w":9380,"v":1.7},{"w":9405,"v":1.63},{"w":9440,"v":1.72},{"w":9472,"v":1.79},{"w":9510,"v":1.62},{"w":9580,"v":1.52},{"w":9646,"v":1.42},{"w":9740,"v":1.42},{"w":9819,"v":1.44},{"w":9906,"v":1.52},{"w":9945,"v":1.7},{"w":9972,"v":2.11},{"w":10000,"v":1.9}],
"o":[{"w":900,"v":1.8},{"w":904,"v":3.5},{"w":908,"v":0.8},{"w":912,"v":4.8},{"w":916,"v":1.5},{"w":920,"v":5.6},{"w":924,"v":2.4},{"w":928,"v":4.0},{"w":932,"v":1.2},{"w":936,"v":6.2},{"w":940,"v":3.0},{"w":944,"v":5.0},{"w":948,"v":1.6},{"w":952,"v":3.8},{"w":956,"v":0.9},{"w":960,"v":4.6},{"w":964,"v":2.0},{"w":968,"v":5.5},{"w":972,"v":2.6},{"w":976,"v":1.0},{"w":980,"v":3.4},{"w":984,"v":0.5},{"w":988,"v":2.8},{"w":992,"v":0.3},{"w":996,"v":1.8},{"w":1000,"v":0.0},{"w":1006,"v":0.9},{"w":1012,"v":-0.2},{"w":1020,"v":0.5},{"w":1028,"v":-0.25},{"w":1040,"v":-0.3},{"w":1055,"v":-0.31},{"w":1068,"v":0.2},{"w":1074,"v":-0.28},{"w":1085,"v":0.6},{"w":1092,"v":-0.25},{"w":1104,"v":-0.2},{"w":1112,"v":1.4},{"w":1118,"v":-0.1},{"w":1126,"v":-0.25},{"w":1140,"v":0.3},{"w":1146,"v":-0.2},{"w":1151,"v":3.49},{"w":1156,"v":-0.2},{"w":1168,"v":-0.28},{"w":1180,"v":0.9},{"w":1186,"v":-0.25},{"w":1196,"v":-0.3},{"w":1210,"v":-0.3},{"w":1225,"v":-0.3},{"w":1240,"v":0.5},{"w":1246,"v":-0.3},{"w":1265,"v":-0.3},{"w":1285,"v":-0.25},{"w":1300,"v":0.2},{"w":1308,"v":1.2},{"w":1315,"v":5.24},{"w":1322,"v":1.2},{"w":1330,"v":0.2},{"w":1345,"v":-0.28},{"w":1360,"v":-0.31},{"w":1380,"v":-0.31},{"w":1405,"v":-0.25},{"w":1412,"v":1.66},{"w":1419,"v":-0.25},{"w":1440,"v":-0.3},{"w":1452,"v":-0.2},{"w":1459,"v":0.3},{"w":1465,"v":-0.28},{"w":1480,"v":-0.1},{"w":1488,"v":-0.29},{"w":1500,"v":0.05},{"w":1506,"v":-0.29},{"w":1518,"v":-0.05},{"w":1524,"v":0.3},{"w":1530,"v":-0.28},{"w":1545,"v":0.0},{"w":1552,"v":-0.28},{"w":1565,"v":0.1},{"w":1572,"v":-0.28},{"w":1584,"v":-0.05},{"w":1590,"v":0.33},{"w":1596,"v":-0.27},{"w":1612,"v":0.0},{"w":1620,"v":-0.27},{"w":1635,"v":-0.1},{"w":1642,"v":-0.27},{"w":1655,"v":0.27},{"w":1661,"v":-0.26},{"w":1675,"v":-0.05},{"w":1682,"v":-0.26},{"w":1699,"v":0.22},{"w":1705,"v":-0.26},{"w":1720,"v":-0.1},{"w":1728,"v":-0.25},{"w":1745,"v":-0.05},{"w":1752,"v":-0.25},{"w":1765,"v":0.3},{"w":1771,"v":-0.25},{"w":1790,"v":-0.12},{"w":1798,"v":-0.24},{"w":1820,"v":-0.1},{"w":1828,"v":-0.24},{"w":1850,"v":0.05},{"w":1856,"v":-0.24},{"w":1880,"v":-0.15},{"w":1888,"v":-0.23},{"w":1910,"v":-0.05},{"w":1918,"v":-0.23},{"w":1940,"v":-0.12},{"w":1948,"v":-0.22},{"w":1982,"v":0.46},{"w":1988,"v":-0.22},{"w":2010,"v":-0.1},{"w":2018,"v":-0.21},{"w":2040,"v":-0.05},{"w":2048,"v":-0.21},{"w":2075,"v":-0.12},{"w":2083,"v":-0.2},{"w":2105,"v":0.0},{"w":2113,"v":-0.19},{"w":2134,"v":0.97},{"w":2140,"v":-0.18},{"w":2165,"v":-0.05},{"w":2173,"v":-0.18},{"w":2200,"v":-0.08},{"w":2208,"v":-0.17},{"w":2243,"v":0.3},{"w":2249,"v":-0.16},{"w":2275,"v":-0.05},{"w":2283,"v":-0.15},{"w":2320,"v":-0.05},{"w":2328,"v":-0.14},{"w":2352,"v":0.36},{"w":2358,"v":-0.13},{"w":2390,"v":-0.02},{"w":2398,"v":-0.13},{"w":2430,"v":0.05},{"w":2438,"v":-0.12},{"w":2470,"v":-0.02},{"w":2478,"v":-0.11},{"w":2504,"v":0.4},{"w":2510,"v":-0.1},{"w":2522,"v":0.41},{"w":2528,"v":-0.09},{"w":2550,"v":0.0},{"w":2558,"v":-0.09},{"w":2579,"v":0.3},{"w":2585,"v":-0.08},{"w":2610,"v":0.05},{"w":2618,"v":-0.07},{"w":2650,"v":0.1},{"w":2658,"v":-0.06},{"w":2690,"v":0.05},{"w":2698,"v":-0.05},{"w":2722,"v":0.5},{"w":2728,"v":-0.04},{"w":2760,"v":0.1},{"w":2768,"v":-0.03},{"w":2800,"v":0.1},{"w":2808,"v":-0.02},{"w":2818,"v":0.89},{"w":2824,"v":-0.02},{"w":2860,"v":0.1},{"w":2868,"v":0.0},{"w":2892,"v":0.3},{"w":2898,"v":0.01},{"w":2940,"v":0.3},{"w":2946,"v":0.02},{"w":2990,"v":0.15},{"w":2998,"v":0.03},{"w":3040,"v":0.2},{"w":3048,"v":0.04},{"w":3061,"v":0.3},{"w":3066,"v":2.35},{"w":3071,"v":0.3},{"w":3080,"v":0.05},{"w":3084,"v":1.1},{"w":3090,"v":0.06},{"w":3120,"v":0.2},{"w":3128,"v":0.08},{"w":3157,"v":0.55},{"w":3163,"v":0.09},{"w":3200,"v":0.25},{"w":3208,"v":0.1},{"w":3240,"v":0.2},{"w":3248,"v":0.12},{"w":3290,"v":0.3},{"w":3298,"v":0.13},{"w":3332,"v":0.54},{"w":3338,"v":0.15},{"w":3380,"v":0.35},{"w":3388,"v":0.16},{"w":3441,"v":0.54},{"w":3447,"v":0.18},{"w":3490,"v":0.4},{"w":3498,"v":0.2},{"w":3549,"v":0.59},{"w":3555,"v":0.22},{"w":3600,"v":0.6},{"w":3610,"v":2.3},{"w":3620,"v":0.6},{"w":3636,"v":0.5},{"w":3642,"v":0.25},{"w":3659,"v":0.73},{"w":3665,"v":0.26},{"w":3700,"v":0.5},{"w":3708,"v":0.3},{"w":3745,"v":1.5},{"w":3751,"v":0.32},{"w":3780,"v":0.8},{"w":3788,"v":0.33},{"w":3829,"v":2.72},{"w":3835,"v":0.35},{"w":3860,"v":1.2},{"w":3866,"v":0.36},{"w":3902,"v":1.87},{"w":3908,"v":0.37},{"w":3930,"v":1.0},{"w":3936,"v":0.38},{"w":3960,"v":1.4},{"w":3966,"v":0.4},{"w":3990,"v":0.9},{"w":3996,"v":0.41},{"w":4042,"v":1.76},{"w":4048,"v":0.43},{"w":4070,"v":1.0},{"w":4076,"v":0.44},{"w":4090,"v":2.27},{"w":4096,"v":0.45},{"w":4130,"v":1.1},{"w":4136,"v":0.46},{"w":4159,"v":1.63},{"w":4165,"v":0.47},{"w":4200,"v":0.9},{"w":4206,"v":0.49},{"w":4240,"v":1.2},{"w":4246,"v":0.5},{"w":4280,"v":0.8},{"w":4286,"v":0.51},{"w":4320,"v":1.1},{"w":4326,"v":0.52},{"w":4360,"v":0.9},{"w":4366,"v":0.53},{"w":4400,"v":0.8},{"w":4406,"v":0.54},{"w":4430,"v":2.05},{"w":4436,"v":0.55},{"w":4470,"v":0.9},{"w":4476,"v":0.56},{"w":4520,"v":1.0},{"w":4526,"v":0.57},{"w":4560,"v":0.8},{"w":4566,"v":0.58},{"w":4610,"v":1.1},{"w":4616,"v":0.58},{"w":4660,"v":0.9},{"w":4666,"v":0.59},{"w":4704,"v":1.58},{"w":4710,"v":0.6},{"w":4760,"v":0.9},{"w":4766,"v":0.6},{"w":4800,"v":1.0},{"w":4806,"v":0.61},{"w":4850,"v":0.8},{"w":4856,"v":0.61},{"w":4890,"v":1.58},{"w":4896,"v":0.62},{"w":4940,"v":0.9},{"w":4946,"v":0.62},{"w":4990,"v":1.0},{"w":4996,"v":0.61},{"w":5040,"v":0.9},{"w":5046,"v":0.6},{"w":5080,"v":0.8},{"w":5086,"v":0.6},{"w":5110,"v":0.9},{"w":5116,"v":0.59},{"w":5140,"v":1.0},{"w":5146,"v":0.6},{"w":5180,"v":0.9},{"w":5186,"v":0.61},{"w":5210,"v":1.1},{"w":5216,"v":0.62},{"w":5247,"v":2.13},{"w":5253,"v":0.75},{"w":5265,"v":1.2},{"w":5272,"v":0.7},{"w":5291,"v":1.58},{"w":5297,"v":0.75},{"w":5310,"v":1.1},{"w":5318,"v":0.75},{"w":5330,"v":1.2},{"w":5340,"v":0.8},{"w":5357,"v":1.18},{"w":5364,"v":0.8},{"w":5380,"v":1.0},{"w":5390,"v":0.75},{"w":5413,"v":1.16},{"w":5420,"v":0.7},{"w":5440,"v":0.68},{"w":5500,"v":0.8},{"w":5506,"v":0.67},{"w":5600,"v":0.75},{"w":5606,"v":0.7},{"w":5700,"v":0.72},{"w":5760,"v":0.8},{"w":5766,"v":0.72},{"w":5800,"v":1.0},{"w":5806,"v":0.73},{"w":5835,"v":1.92},{"w":5841,"v":0.73},{"w":5880,"v":0.9},{"w":5886,"v":0.74},{"w":5930,"v":1.2},{"w":5936,"v":0.74},{"w":5970,"v":1.3},{"w":5976,"v":0.75},{"w":6010,"v":1.79},{"w":6016,"v":0.76},{"w":6040,"v":3.04},{"w":6046,"v":0.77},{"w":6080,"v":1.4},{"w":6086,"v":0.77},{"w":6110,"v":2.32},{"w":6116,"v":0.78},{"w":6150,"v":1.0},{"w":6156,"v":0.78},{"w":6180,"v":1.3},{"w":6186,"v":0.79},{"w":6220,"v":1.2},{"w":6226,"v":0.8},{"w":6260,"v":1.1},{"w":6266,"v":0.8},{"w":6302,"v":2.16},{"w":6308,"v":0.81},{"w":6340,"v":1.2},{"w":6346,"v":0.82},{"w":6371,"v":1.74},{"w":6377,"v":0.82},{"w":6420,"v":1.0},{"w":6426,"v":0.83},{"w":6470,"v":1.1},{"w":6476,"v":0.84},{"w":6520,"v":0.9},{"w":6526,"v":0.84},{"w":6563,"v":1.42},{"w":6569,"v":0.85},{"w":6620,"v":0.9},{"w":6626,"v":0.86},{"w":6700,"v":0.87},{"w":6760,"v":0.95},{"w":6766,"v":0.88},{"w":6800,"v":1.1},{"w":6806,"v":0.89},{"w":6830,"v":0.9},{"w":6845,"v":1.5},{"w":6853,"v":3.33},{"w":6861,"v":1.5},{"w":6875,"v":0.9},{"w":6903,"v":0.91},{"w":6940,"v":1.0},{"w":6946,"v":0.91},{"w":6980,"v":1.1},{"w":6986,"v":0.92},{"w":7040,"v":1.2},{"w":7046,"v":0.92},{"w":7089,"v":1.42},{"w":7095,"v":0.93},{"w":7150,"v":0.94},{"w":7207,"v":0.94},{"w":7238,"v":1.31},{"w":7244,"v":0.95},{"w":7285,"v":1.23},{"w":7291,"v":0.95},{"w":7400,"v":0.97},{"w":7599,"v":0.99},{"w":7643,"v":1.42},{"w":7649,"v":1.0},{"w":7760,"v":1.3},{"w":7776,"v":2.81},{"w":7792,"v":1.3},{"w":7820,"v":1.02},{"w":7900,"v":1.03},{"w":7925,"v":1.5},{"w":7938,"v":2.24},{"w":7950,"v":1.6},{"w":7965,"v":2.0},{"w":7977,"v":4.6},{"w":7989,"v":2.0},{"w":8000,"v":1.2},{"w":8015,"v":1.1},{"w":8035,"v":1.6},{"w":8048,"v":2.57},{"w":8060,"v":1.5},{"w":8075,"v":1.05},{"w":8150,"v":1.07},{"w":8280,"v":1.09},{"w":8296,"v":1.21},{"w":8304,"v":1.09},{"w":8330,"v":1.1},{"w":8400,"v":1.11},{"w":8513,"v":1.13},{"w":8540,"v":1.2},{"w":8557,"v":1.74},{"w":8574,"v":1.2},{"w":8600,"v":1.14},{"w":8700,"v":1.16},{"w":8800,"v":1.19},{"w":8818,"v":1.47},{"w":8826,"v":1.2},{"w":8840,"v":1.3},{"w":8853,"v":1.42},{"w":8866,"v":1.25},{"w":8900,"v":1.2},{"w":8949,"v":1.21},{"w":9000,"v":1.35},{"w":9025,"v":1.5},{"w":9036,"v":2.21},{"w":9048,"v":1.6},{"w":9058,"v":2.0},{"w":9067,"v":3.83},{"w":9076,"v":2.2},{"w":9090,"v":1.6},{"w":9105,"v":1.4},{"w":9123,"v":1.45},{"w":9140,"v":1.3},{"w":9160,"v":1.5},{"w":9176,"v":1.96},{"w":9190,"v":1.5},{"w":9210,"v":1.45},{"w":9222,"v":2.0},{"w":9232,"v":2.7},{"w":9242,"v":2.0},{"w":9255,"v":1.4},{"w":9280,"v":1.3},{"w":9300,"v":1.45},{"w":9320,"v":1.3},{"w":9345,"v":1.35},{"w":9363,"v":1.52},{"w":9378,"v":1.25},{"w":9400,"v":1.17},{"w":9500,"v":1.16},{"w":9646,"v":1.15},{"w":9690,"v":1.2},{"w":9706,"v":1.5},{"w":9720,"v":1.87},{"w":9734,"v":1.5},{"w":9750,"v":1.35},{"w":9766,"v":1.4},{"w":9776,"v":1.6},{"w":9786,"v":1.35},{"w":9820,"v":1.2},{"w":9850,"v":1.3},{"w":9862,"v":1.5},{"w":9871,"v":1.74},{"w":9880,"v":1.4},{"w":9895,"v":1.2},{"w":9906,"v":1.5},{"w":9916,"v":1.82},{"w":9926,"v":1.4},{"w":9950,"v":1.18},{"w":10000,"v":1.16}],
"lab":[{"w":5979,"v":9.59,"t":"ρ=8.3×10⁻⁸\u00a0\u00a0g\u00a0\u00a0cm⁻³,\u00a0\u00a0T=1.5eV","c":"#000000"},{"w":7033,"v":7.87,"t":"10⁴×Cobalt","c":"#0000ff"},{"w":1511,"v":3.29,"t":"Hydrogen","c":"#000000"},{"w":1511,"v":1.19,"t":"Helium","c":"#00ee00"},{"w":7011,"v":0.58,"t":"Oxygen","c":"#ff0000"}]
},
"layer":[
{"data":{"name":"co"},"mark":{"type":"line","color":"#0000ff","strokeWidth":1.5,"clip":true},
"encoding":{"x":{"field":"w","type":"quantitative","scale":{"domain":[900,10000],"nice":false,"zero":false},"axis":{"orient":"bottom","values":[2000,4000,6000,8000],"tickSize":-12,"labelPadding":22,"labelBaseline":"top","title":"Wavelength (Å)","titlePadding":8}},
"y":{"field":"v","type":"quantitative","scale":{"domain":[-1,10.1],"nice":false,"zero":false},"axis":{"orient":"left","values":[0,2,4,6,8,10],"tickSize":-12,"labelPadding":23,"title":"Log Total Opacity (cm² g⁻¹)","titleFontSize":19,"titlePadding":10}}}},
{"data":{"name":"h"},"mark":{"type":"line","color":"#000000","strokeWidth":1.7,"clip":true},
"encoding":{"x":{"field":"w","type":"quantitative","axis":{"orient":"top","values":[2000,4000,6000,8000],"tickSize":-12,"labels":false,"title":null}},
"y":{"field":"v","type":"quantitative","axis":{"orient":"right","values":[0,2,4,6,8,10],"tickSize":-12,"labels":false,"title":null}}}},
{"data":{"name":"he"},"mark":{"type":"line","color":"#00ee00","strokeWidth":1.6,"clip":true},
"encoding":{"x":{"field":"w","type":"quantitative","axis":{"orient":"bottom","values":[1000,1500,2500,3000,3500,4500,5000,5500,6500,7000,7500,8500,9000,9500],"tickSize":-6,"labels":false,"title":null}},
"y":{"field":"v","type":"quantitative","axis":{"orient":"left","values":[-0.5,0.5,1,1.5,2.5,3,3.5,4.5,5,5.5,6.5,7,7.5,8.5,9,9.5],"tickSize":-6,"labels":false,"title":null}}}},
{"data":{"name":"o"},"mark":{"type":"line","color":"#ff0000","strokeWidth":1.5,"clip":true},
"encoding":{"x":{"field":"w","type":"quantitative","axis":{"orient":"top","values":[1000,1500,2500,3000,3500,4500,5000,5500,6500,7000,7500,8500,9000,9500],"tickSize":-6,"labels":false,"title":null}},
"y":{"field":"v","type":"quantitative","axis":{"orient":"right","values":[-0.5,0.5,1,1.5,2.5,3,3.5,4.5,5,5.5,6.5,7,7.5,8.5,9,9.5],"tickSize":-6,"labels":false,"title":null}}}},
{"data":{"name":"lab"},"mark":{"type":"text","align":"left","baseline":"middle","font":"DejaVu Serif","fontSize":17},
"encoding":{"x":{"field":"w","type":"quantitative","axis":null},"y":{"field":"v","type":"quantitative","axis":null},"text":{"field":"t"},"color":{"field":"c","type":"nominal","scale":null}}}
],
"resolve":{"axis":{"x":"independent","y":"independent"}}
}
